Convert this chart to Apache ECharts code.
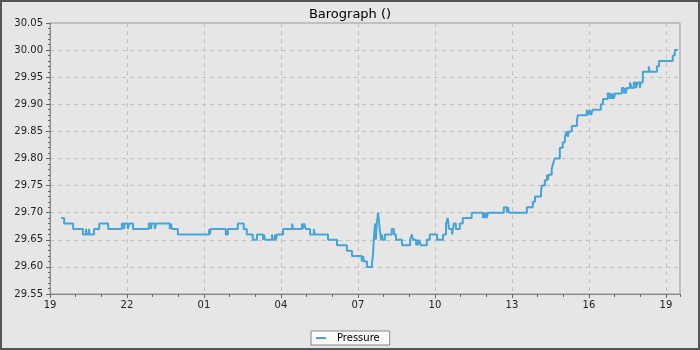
<!DOCTYPE html>
<html>
<head>
<meta charset="utf-8">
<script src="https://cdn.jsdelivr.net/npm/echarts@6/dist/echarts.min.js"></script>
<style>
html,body{margin:0;padding:0;background:#e6e6e6;}
#chart{width:700px;height:350px;}
</style>
</head>
<body>
<div id="chart"></div>
<script>
// minutes after 19:00 (start of the axis) at which the reading changes
var minutes = [26,33,54,77,84,86,91,93,103,115,136,168,173,175,182,185,194,231,236,238,245,248,280,283,285,299,
372,374,376,411,416,439,453,460,474,484,498,500,503,519,521,526,528,531,545,566,568,589,591,594,598,608,617,619,
650,671,694,706,729,732,734,741,753,755,757,760,762,764,767,771,774,776,778,783,799,804,809,823,842,846,849,856,
858,860,863,867,881,888,905,919,926,930,933,940,944,949,958,965,986,1012,1014,1017,1019,1021,1024,1061,1068,1071,
1073,1115,1129,1134,1148,1150,1157,1162,1164,1166,1173,1176,1180,1192,1199,1204,1208,1211,1213,1220,1232,1234,
1255,1258,1262,1265,1269,1288,1293,1304,1309,1311,1314,1316,1318,1321,1337,1342,1344,1346,1349,1356,1360,1365,
1370,1374,1379,1381,1386,1400,1402,1419,1424,1456,1461,1468];
var pressure = [29.69,29.68,29.67,29.66,29.67,29.66,29.67,29.66,29.67,29.68,29.67,29.68,29.67,29.68,29.67,29.68,29.67,29.68,29.67,29.68,29.67,29.68,29.67,29.68,29.67,29.66,
29.67,29.66,29.67,29.66,29.67,29.68,29.67,29.66,29.65,29.66,29.65,29.66,29.65,29.66,29.65,29.66,29.65,29.66,29.67,29.68,29.67,29.68,29.67,29.68,29.67,29.66,29.67,29.66,
29.65,29.64,29.63,29.62,29.61,29.62,29.61,29.60,29.61,29.62,29.65,29.68,29.65,29.68,29.70,29.67,29.65,29.66,29.65,29.66,29.67,29.66,29.65,29.64,29.65,29.66,29.65,29.64,
29.65,29.64,29.65,29.64,29.65,29.66,29.65,29.66,29.68,29.69,29.67,29.66,29.68,29.67,29.68,29.69,29.70,29.69,29.70,29.69,29.70,29.69,29.70,29.71,29.70,29.71,
29.70,29.71,29.72,29.73,29.74,29.75,29.76,29.77,29.76,29.77,29.78,29.79,29.80,29.82,29.83,29.84,29.85,29.84,29.85,29.86,29.87,29.88,
29.89,29.88,29.89,29.88,29.89,29.90,29.91,29.92,29.91,29.92,29.91,29.92,29.91,29.92,29.93,29.92,29.93,29.92,29.93,29.94,29.93,29.94,
29.93,29.94,29.93,29.94,29.96,29.97,29.96,29.97,29.98,29.99,30.00,30.00];
var xMax = 1473;          // axis end, minutes after 19:00
var startHour = 19;
var yTicks = {min: 29.55, max: 30.05, step: 0.05};

var data = minutes.map(function (m, i) { return [m, pressure[i]]; });
var font = 'DejaVu Sans';
var chart = echarts.init(document.getElementById('chart'));
chart.setOption({
  backgroundColor: '#e6e6e6',
  animation: false,
  textStyle: {fontFamily: font},
  title: {
    text: 'Barograph ()', left: 'center', top: 3,
    textStyle: {fontFamily: font, fontSize: 13, fontWeight: 'normal', color: '#000'}
  },
  legend: {
    left: 311, top: 331,
    backgroundColor: '#fafafa', borderColor: '#888', borderWidth: 1, borderRadius: 0,
    padding: [2, 10, 2, 5],
    icon: 'rect', itemWidth: 10, itemHeight: 2,
    textStyle: {fontFamily: font, fontSize: 10, color: '#000', padding: [0, 0, 0, 6]},
    data: ['Pressure']
  },
  grid: {left: 50, right: 20, top: 23, bottom: 56, show: true, backgroundColor: '#e6e6e6', borderColor: '#999', borderWidth: 1},
  xAxis: [{
    type: 'value', min: 0, max: xMax, interval: 180,
    axisLine: {show: true, lineStyle: {color: '#888'}},
    axisTick: {show: true, length: 4, lineStyle: {color: '#666'}},
    axisLabel: {
      fontFamily: font, fontSize: 10, color: '#222', margin: 6, showMaxLabel: false,
      formatter: function (v) {
        if (v % 180 !== 0) return '';
        var h = (startHour + v / 60) % 24;
        return (h < 10 ? '0' : '') + h;
      }
    },
    splitLine: {show: true, lineStyle: {color: '#c0c0c0', type: [4, 4]}}
  }, {
    type: 'value', min: 0, max: xMax, interval: 60, position: 'bottom',
    axisLine: {show: false},
    axisTick: {show: true, length: 3, lineStyle: {color: '#666'}},
    axisLabel: {show: false},
    splitLine: {show: false}
  }],
  yAxis: {
    type: 'value', min: yTicks.min, max: yTicks.max, interval: yTicks.step,
    axisLine: {show: true, lineStyle: {color: '#888'}},
    axisTick: {show: true, length: 4, lineStyle: {color: '#666'}},
    minorTick: {show: true, splitNumber: 5, length: 2, lineStyle: {color: '#666'}},
    axisLabel: {fontFamily: font, fontSize: 10, color: '#222', margin: 7,
      formatter: function (v) { return v.toFixed(2); }},
    splitLine: {show: true, lineStyle: {color: '#c0c0c0', type: [4, 4]}}
  },
  graphic: [{
    type: 'rect', silent: true, z: 100,
    shape: {x: 1, y: 1, width: 698, height: 348},
    style: {fill: 'none', stroke: '#555', lineWidth: 2}
  }],
  series: [{
    name: 'Pressure', type: 'line', step: 'end', xAxisIndex: 0,
    data: data, showSymbol: false, symbol: 'none',
    lineStyle: {width: 2, color: '#45a5d8'}, itemStyle: {color: '#45a5d8'}
  }]
});
</script>
</body>
</html>
